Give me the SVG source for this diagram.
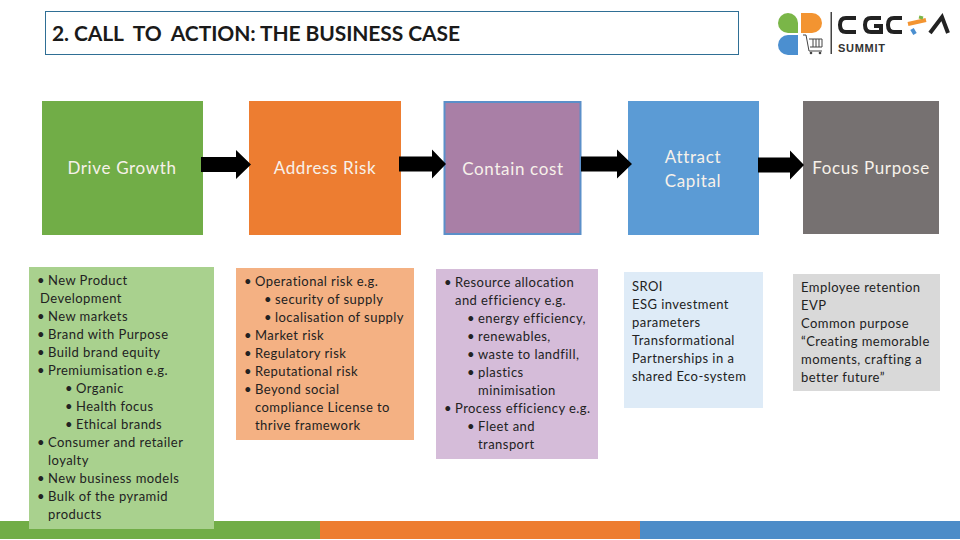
<svg xmlns="http://www.w3.org/2000/svg" width="960" height="540" viewBox="0 0 960 540">
<style>
text{font-family:Lato,"Noto Sans","Liberation Sans",sans-serif}
.h{font-size:17px;fill:#f7f1ea;text-anchor:middle;letter-spacing:.65px}
.t{font-size:13px;fill:#222;letter-spacing:.45px}
.a{fill:#000}
</style>
<rect width="960" height="540" fill="#fff"/>
<g id="footer"><rect x="0" y="521" width="320" height="18" fill="#71ad47"/><rect x="320" y="521" width="320" height="18" fill="#ed7d31"/><rect x="640" y="521" width="320" height="18" fill="#4d8cc8"/></g>
<g id="title"><rect x="45.500" y="11.500" width="693" height="43" fill="#fff" stroke="#2f6f95"/><text x="52" y="40.500" font-size="21" font-weight="700" fill="#1a1a1a" xml:space="preserve" textLength="408">2. CALL  TO  ACTION: THE BUSINESS CASE</text></g>
<g id="logo">
<path d="M778 23a10 10 0 0 1 20 0V33H788A10 10 0 0 1 778 23Z" fill="#7ab648"/>
<path d="M801 13H812A10 10 0 0 1 812 33H801Z" fill="#f39431"/>
<path d="M798 35V55H788A10 10 0 0 1 788 35Z" fill="#4b8fd0"/>
<path d="M803 35H806L809 51H822M809 39H822V47H810M813 39V47M816 39V47M819 39V47" fill="none" stroke="#444" stroke-width="1"/>
<circle cx="811" cy="53" r="1.300" fill="#444"/><circle cx="820" cy="53" r="1.300" fill="#444"/>
<rect x="830.500" y="12" width="1.500" height="42" fill="#444"/>
<path d="M856 18H846Q840 18 840 25Q840 32 846 32H856M881 18H871Q865 18 865 25Q865 32 871 32H881V26H874M902 18H894Q888 18 888 25Q888 32 894 32H902" fill="none" stroke="#222" stroke-width="4"/>
<path d="M908 24L926 20" fill="none" stroke="#f39431" stroke-width="4"/><path d="M919 17L923 18" stroke="#7ab648" stroke-width="3"/><path d="M912 29L915 34" stroke="#4b8fd0" stroke-width="4"/>
<path d="M930 33L942 17L948 33" fill="none" stroke="#222" stroke-width="4"/>
<text x="838" y="52" font-size="11" font-weight="700" fill="#333" style="font-family:'Liberation Sans',sans-serif" textLength="47">SUMMIT</text>
</g>
<g id="n1"><rect x="42" y="101" width="161" height="134" fill="#71ad47"/><text class="h" x="122" y="174">Drive Growth</text></g>
<g id="n2"><rect x="249" y="101" width="152" height="134" fill="#ed7d31"/><text class="h" x="325" y="174">Address Risk</text></g>
<g id="n3"><rect x="444.500" y="102" width="136" height="132" fill="#a97fa6" stroke="#5b8fc9" stroke-width="2"/><text class="h" x="513" y="175">Contain cost</text></g>
<g id="n4"><rect x="628" y="101" width="131" height="134" fill="#5b9bd5"/><text class="h" x="693" y="163">Attract</text><text class="h" x="693" y="187">Capital</text></g>
<g id="n5"><rect x="803" y="101" width="136" height="133" fill="#767171"/><text class="h" x="871" y="174">Focus Purpose</text></g>
<g id="connectors">
<path class="a" d="M201 157H236V150L251 164.500 236 179V172H201Z"/>
<path class="a" d="M399 156.500H432V149.500L446 164 432 178.500V171.500H399Z"/>
<path class="a" d="M581 156.500H617V149.500L632 164 617 178.500V171.500H581Z"/>
<path class="a" d="M758 157.500H790V150.500L804 165 790 179.500V172.500H758Z"/>
</g>
<g id="d1"><rect x="29" y="267" width="185" height="262" fill="#a9d18e"/>
<text class="t" x="37" y="285">•</text><text class="t" x="48" y="285">New Product</text>
<text class="t" x="40" y="303">Development</text>
<text class="t" x="37" y="321">•</text><text class="t" x="48" y="321">New markets</text>
<text class="t" x="37" y="339">•</text><text class="t" x="48" y="339">Brand with Purpose</text>
<text class="t" x="37" y="357">•</text><text class="t" x="48" y="357">Build brand equity</text>
<text class="t" x="37" y="375">•</text><text class="t" x="48" y="375">Premiumisation e.g.</text>
<text class="t" x="65" y="393">•</text><text class="t" x="76" y="393">Organic</text>
<text class="t" x="65" y="411">•</text><text class="t" x="76" y="411">Health focus</text>
<text class="t" x="65" y="429">•</text><text class="t" x="76" y="429">Ethical brands</text>
<text class="t" x="37" y="447">•</text><text class="t" x="48" y="447">Consumer and retailer</text>
<text class="t" x="48" y="465">loyalty</text>
<text class="t" x="37" y="483">•</text><text class="t" x="48" y="483">New business models</text>
<text class="t" x="37" y="501">•</text><text class="t" x="48" y="501">Bulk of the pyramid</text>
<text class="t" x="48" y="519">products</text>
</g>
<g id="d2"><rect x="236" y="268" width="178" height="172" fill="#f4b183"/>
<text class="t" x="244" y="286">•</text><text class="t" x="255" y="286">Operational risk e.g.</text>
<text class="t" x="264" y="304">•</text><text class="t" x="275" y="304">security of supply</text>
<text class="t" x="264" y="322">•</text><text class="t" x="275" y="322">localisation of supply</text>
<text class="t" x="244" y="340">•</text><text class="t" x="255" y="340">Market risk</text>
<text class="t" x="244" y="358">•</text><text class="t" x="255" y="358">Regulatory risk</text>
<text class="t" x="244" y="376">•</text><text class="t" x="255" y="376">Reputational risk</text>
<text class="t" x="244" y="394">•</text><text class="t" x="255" y="394">Beyond social</text>
<text class="t" x="255" y="412">compliance License to</text>
<text class="t" x="255" y="430">thrive framework</text>
</g>
<g id="d3"><rect x="436" y="269" width="162" height="190" fill="#d5bcd9"/>
<text class="t" x="444" y="287">•</text><text class="t" x="455" y="287">Resource allocation</text>
<text class="t" x="455" y="305">and efficiency e.g.</text>
<text class="t" x="467" y="323">•</text><text class="t" x="478" y="323">energy efficiency,</text>
<text class="t" x="467" y="341">•</text><text class="t" x="478" y="341">renewables,</text>
<text class="t" x="467" y="359">•</text><text class="t" x="478" y="359">waste to landfill,</text>
<text class="t" x="467" y="377">•</text><text class="t" x="478" y="377">plastics</text>
<text class="t" x="478" y="395">minimisation</text>
<text class="t" x="444" y="413">•</text><text class="t" x="455" y="413">Process efficiency e.g.</text>
<text class="t" x="467" y="431">•</text><text class="t" x="478" y="431">Fleet and</text>
<text class="t" x="478" y="449">transport</text>
</g>
<g id="d4"><rect x="624" y="272" width="139" height="136" fill="#deebf7"/>
<text class="t" x="632" y="291">SROI</text>
<text class="t" x="632" y="309">ESG investment</text>
<text class="t" x="632" y="327">parameters</text>
<text class="t" x="632" y="345">Transformational</text>
<text class="t" x="632" y="363">Partnerships in a</text>
<text class="t" x="632" y="381">shared Eco-system</text>
</g>
<g id="d5"><rect x="793" y="274" width="147" height="117" fill="#d9d9d9"/>
<text class="t" x="801" y="292">Employee retention</text>
<text class="t" x="801" y="310">EVP</text>
<text class="t" x="801" y="328">Common purpose</text>
<text class="t" x="801" y="346">“Creating memorable</text>
<text class="t" x="801" y="364">moments, crafting a</text>
<text class="t" x="801" y="382">better future”</text>
</g>
</svg>
